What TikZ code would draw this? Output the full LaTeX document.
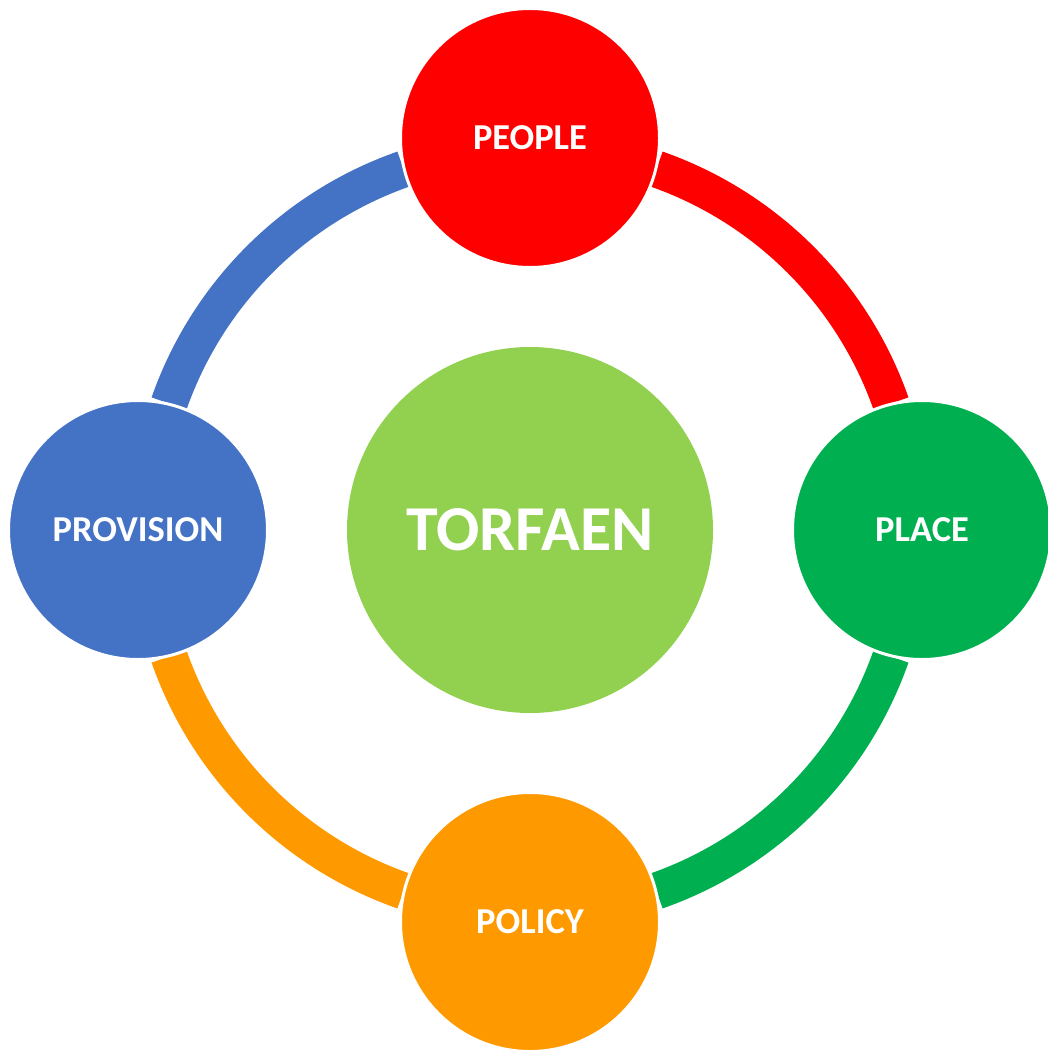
\documentclass[tikz,border=0pt]{standalone}
\usepackage{fontspec}
\setmainfont{Carlito}
\usetikzlibrary{backgrounds}
\definecolor{hubgreen}{HTML}{92D050}
\definecolor{peoplered}{HTML}{FF0000}
\definecolor{placegreen}{HTML}{00B050}
\definecolor{policyorange}{HTML}{FF9900}
\definecolor{provisionblue}{HTML}{4472C4}
\begin{document}
\begin{tikzpicture}[x=1pt,y=1pt,
  hub/.style={circle, fill=hubgreen, minimum size=366pt, inner sep=0pt,
    text=white, font=\fontsize{64}{64}\selectfont\bfseries},
  petal/.style={circle, draw=white, line width=3pt, minimum size=259pt,
    inner sep=0pt, text=white, font=\fontsize{36.5}{36.5}\selectfont\bfseries},
  band/.style={line width=37pt}]
\useasboundingbox (0,0) rectangle (1047,-1051);

% central hub
\node[hub] (torfaen) at (530,-530) {TORFAEN};

% the four themes around the hub
\node[petal, fill=peoplered]     (people)    at (530,-138) {PEOPLE};
\node[petal, fill=placegreen]    (place)     at (922,-530) {PLACE};
\node[petal, fill=policyorange]  (policy)    at (530,-922) {POLICY};
\node[petal, fill=provisionblue] (provision) at (138,-530) {PROVISION};

% cycle bands, each in the colour of the theme it leaves
\begin{scope}[on background layer]
  \draw[band, peoplered]     ([shift={(70.7:382.5)}]torfaen.center)
    arc[start angle=70.7, end angle=19.3, radius=382.5];
  \draw[band, placegreen]    ([shift={(-19.3:382.5)}]torfaen.center)
    arc[start angle=-19.3, end angle=-70.7, radius=382.5];
  \draw[band, policyorange]  ([shift={(-109.3:382.5)}]torfaen.center)
    arc[start angle=-109.3, end angle=-160.7, radius=382.5];
  \draw[band, provisionblue] ([shift={(160.7:382.5)}]torfaen.center)
    arc[start angle=160.7, end angle=109.3, radius=382.5];
\end{scope}
\end{tikzpicture}
\end{document}
